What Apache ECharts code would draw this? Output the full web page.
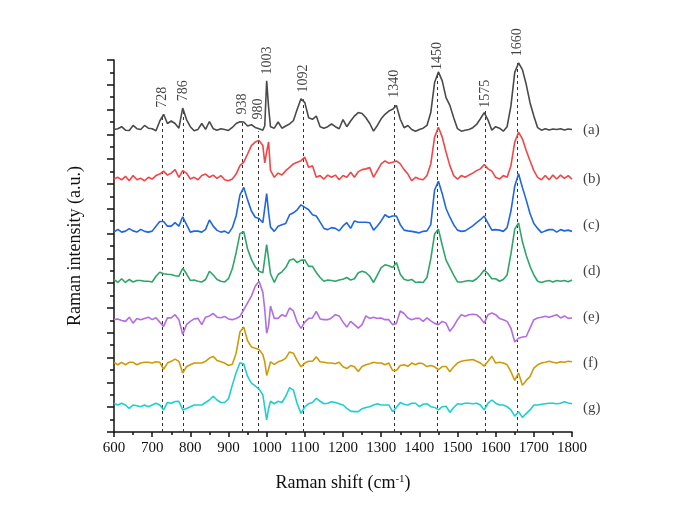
<!DOCTYPE html>
<html>
<head>
<meta charset="utf-8">
<title>Raman spectra</title>
<script src="https://cdn.jsdelivr.net/npm/echarts@6.0.0/dist/echarts.min.js"></script>
<style>
  html, body { margin: 0; padding: 0; background: #fff; }
  #chart { width: 689px; height: 516px; }
</style>
</head>
<body>
<div id="chart"></div>
<script>
// Raman shift grid (cm-1), finer around the 1003 band
const shifts = [
  600, 610, 620, 630, 640, 650, 660, 670, 680, 690,
  700, 710, 720, 730, 740, 750, 760, 770, 780, 790,
  800, 810, 820, 830, 840, 850, 860, 870, 880, 890,
  900, 910, 920, 930, 940, 950, 960, 970, 980, 990,
  995, 1000, 1005,
  1010, 1020, 1030, 1040, 1050, 1060, 1070, 1080, 1090,
  1100, 1110, 1120, 1130, 1140, 1150, 1160, 1170, 1180, 1190,
  1200, 1210, 1220, 1230, 1240, 1250, 1260, 1270, 1280, 1290,
  1300, 1310, 1320, 1330, 1340, 1350, 1360, 1370, 1380, 1390,
  1400, 1410, 1420, 1430, 1440, 1450, 1460, 1470, 1480, 1490,
  1500, 1510, 1520, 1530, 1540, 1550, 1560, 1570, 1580, 1590,
  1600, 1610, 1620, 1630, 1640, 1650, 1660, 1670, 1680, 1690,
  1700, 1710, 1720, 1730, 1740, 1750, 1760, 1770, 1780, 1790,
  1800
];

// intensities relative to each trace's baseline
const traceA = [
  0, 0.3, 1.1, -0.3, -0.4, 1.6, 0.3, 0, 1.6, 0.5,
  0.3, -0.5, 3.4, 6.1, 2.4, 3.4, 2.4, 0.5, 8.6, 4.0,
  1.1, -0.5, 0, 2.4, 0, 3.2, 0.3, -0.3, 0.3, 0,
  -0.4, 0.8, 2.4, 3.1, 3.0, 1.4, 1.9, 0.8, 0.3, -0.3,
  1.5, 19.6, 9.0,
  1.1, 0.5, 3.0, 0.5, 1.4, 2.2, 3.5, 8.1, 12.4,
  10.8, 4.7, 4.1, 5.4, 1.1, 0.5, 1.1, 2.2, 1.1, 0.3,
  4.0, 1.1, 3.4, 5.4, 6.8, 6.4, 4.7, 2.4, -0.7, 1.6,
  4.3, 6.1, 7.4, 8.1, 9.7, 4.1, 0.7, 1.6, 0, -0.7,
  0, 0.5, 1.6, 6.8, 18.9, 23.2, 19.6, 12.8, 9.7, 4.7,
  0.3, -0.7, -0.3, 0, 0.7, 2.0, 4.3, 6.8, 3.8, -0.3,
  1.1, 0.5, -0.7, 1.1, 9.5, 23.0, 26.8, 24.1, 18.2, 10.8,
  5.4, 0.7, -0.3, 0.3, -0.2, 0.2, 0, 0.3, -0.2, 0.2,
  0
];
const traceB = [
  0, 0.7, -0.3, 1.1, -0.7, 1.4, -0.3, 0.3, -0.7, 0.7,
  0, 1.4, 2.0, 3.2, 1.6, 2.4, 3.8, 0.7, 3.4, 2.4,
  0, 0.7, -0.3, 1.4, 2.0, 0.7, 1.6, 0.3, 1.4, -0.3,
  -0.7, 0, 2.0, 5.4, 6.8, 10.1, 13.5, 14.9, 15.5, 13.5,
  6.5, 11.0, 15.0,
  3.5, 0.7, 2.4, 1.6, 3.4, 4.7, 6.1, 6.8, 7.4,
  8.8, 4.7, 5.4, 0.7, 1.4, 0, 1.6, 0.7, 1.6, -0.3,
  1.4, 0.7, 2.7, 0.7, 3.0, 3.8, 4.1, 4.6, 0.7, 3.4,
  6.1, 7.3, 6.4, 6.8, 7.3, 6.1, 3.8, 2.0, -0.7, 0.7,
  0, -0.3, 1.4, 6.1, 16.9, 20.9, 16.9, 10.8, 5.4, 1.4,
  0, 1.4, 0.7, 1.6, 2.4, 3.4, 4.1, 5.9, 4.1, 3.2,
  0.7, 0, 1.4, 0.7, 5.4, 14.9, 18.9, 16.2, 11.5, 7.4,
  3.4, 0.7, -0.3, 1.4, -0.3, 1.6, 0, 1.6, 0.3, 1.4,
  0
];
const traceC = [
  0, 1.1, 0, 0.4, 1.4, 0.5, 0, 1.1, 0.3, 0,
  0.4, 2.4, 4.3, 4.3, 2.4, 2.4, 3.8, 2.4, 6.2, 3.0,
  0, 0.4, 0.4, 0, 1.1, 4.9, 2.4, 0.7, 0, 0.4,
  -0.5, 1.8, 6.5, 15.0, 18.0, 13.0, 8.5, 6.0, 5.5, 3.8,
  3.0, 15.5, 8.0,
  2.0, 0.3, 2.4, 3.0, 3.5, 7.0, 7.8, 9.0, 11.0,
  10.0, 9.0, 7.0, 6.5, 4.0, 1.5, 1.0, 1.8, 1.5, 0.5,
  2.5, 3.8, 1.5, 4.5, 4.0, 4.0, 4.0, 3.8, 0.8, 2.5,
  4.5, 7.0, 6.0, 6.5, 6.5, 3.0, 0.8, 0.5, 0.3, 0,
  -0.3, 0.3, 0.5, 3.0, 17.0, 20.5, 15.5, 9.5, 6.0, 3.0,
  0.8, 0.3, 0.5, 1.5, 2.5, 3.8, 5.0, 6.5, 3.5, 0.8,
  1.0, 0.8, 0.3, 1.8, 8.5, 18.5, 23.5, 18.0, 13.0, 7.5,
  3.5, 1.5, -0.2, 0.5, 1.0, 1.0, 0, 1.0, 0.5, 0.8,
  0.3
];
const traceD = [
  0.7, -0.5, 1.0, -0.5, 0.7, -0.3, 0.3, 0.3, 0, 0,
  -0.3, 2.0, 3.6, 3.0, 2.8, 2.7, 2.2, 2.0, 5.2, 3.0,
  0.3, 0.5, 0, -0.3, 0.7, 4.0, 2.5, 0.7, 0, -0.3,
  1.0, 5.0, 11.5, 19.2, 20.0, 13.0, 8.8, 5.8, 4.0, 3.4,
  3.3, 14.8, 9.0,
  3.0, -0.5, 2.7, 3.8, 5.5, 8.5, 9.0, 7.5, 8.5,
  8.5, 6.0, 6.0, 3.5, 1.5, 0, 0.5, 0.3, 0, 0.5,
  0.8, 1.5, 0.5, 1.0, 3.4, 4.0, 3.5, 2.0, -0.5, 2.5,
  5.5, 6.6, 6.2, 5.5, 7.5, 2.8, 0.8, 0.3, 0.7, -0.5,
  -0.3, -0.5, 1.5, 9.0, 19.0, 21.0, 14.5, 8.5, 5.5, 2.5,
  -0.3, -0.3, 0, 0.3, 0, 1.0, 2.5, 4.5, 3.0, 1.0,
  1.0, 0, 0.7, 2.5, 11.0, 21.0, 23.5, 16.0, 10.5, 6.0,
  2.5, 0, -0.5, 0, 0.3, -0.3, 0.3, 0, 0.3, -0.2,
  0.5
];
const traceE = [
  0, 0.3, -0.3, -0.7, 1.0, -1.4, 0.5, 0, 0.5, 1.0,
  0, 0.8, -1.0, -2.7, 0.7, 0.7, 2.0, 0, -6.0, -2.0,
  -0.7, 0.3, 0.5, -2.0, 1.0, 1.5, 2.5, 1.0, 0.8, 1.3,
  0.3, 0, 0.5, 1.3, 4.0, 6.8, 9.5, 13.5, 15.5, 11.0,
  4.0, -5.5, -2.5,
  5.5, 0.5, 0.5, 2.0, 1.3, 4.7, 3.5, -1.0, -3.5,
  -1.0, 0.5, 0.7, 3.3, 0.3, 0, 0, 0.7, 2.0, 1.5,
  -1.0, -3.0, -0.7, -2.0, -3.4, -2.0, 1.5, 0.5, 1.0, 0.5,
  0.7, 0, 0, -2.0, -1.5, 3.5, 2.5, 0.7, 0, 0.5,
  0.5, -0.7, 0.7, -0.5, -1.5, -2.0, -0.7, -1.4, -4.7, -2.7,
  0, 2.0, 1.4, 2.0, 2.2, 2.0, 0.7, -1.4, 2.0, 2.7,
  2.0, 0.5, 0, -0.7, -3.5, -9.0, -7.5, -7.0, -6.8, -3.4,
  0, 0.7, 1.0, 1.4, 1.0, 1.5, 2.0, 0.7, 1.5, 0.5,
  0.7
];
const traceF = [
  0.3, -0.7, 0.3, -0.7, 0.3, 0.3, -0.7, 0, 0.3, 0.3,
  0, 0.5, 0.3, -2.5, 0, 0.7, 1.6, 0.7, -4.0, -1.5,
  -0.7, 0, 0, 0, 0.7, 2.0, 2.7, 1.0, 0.5, 0,
  -1.0, -0.5, 4.0, 12.5, 14.5, 9.0, 6.5, 6.0, 5.5, 3.4,
  0.5, -5.0, -2.5,
  0.5, -0.5, 0.5, 1.0, 2.0, 4.5, 4.0, 1.0, -1.5,
  0, 0.7, 0.7, 2.5, 0.5, 0.3, 0, 0, -0.3, 0.3,
  -1.5, -2.2, -1.0, -1.5, -3.4, -1.4, -0.7, -0.3, 0.3, 0,
  0, -0.7, 0, -3.0, -3.0, -1.0, -0.7, -1.3, 0, -0.7,
  0, -0.3, -1.4, -1.0, -1.5, -2.7, -1.4, -1.4, -3.5, -1.5,
  0, 0.7, 1.0, 1.2, 1.4, 0.7, 0, -1.2, 0.7, 2.7,
  0, 0.3, 0, -0.7, -3.5, -7.0, -4.0, -9.0, -7.0, -5.5,
  -2.0, -0.7, 0, 0.3, 0.7, 0.3, 0, 0.5, 0.3, 0.7,
  0.5
];
const traceG = [
  0.7, 0, 0.7, 0, -1.4, 0, -0.3, -0.7, 0, -0.7,
  0, 0.7, 0, -2.0, 1.0, 0.7, 1.4, 1.5, -2.0, -1.4,
  -0.7, 0, 0, 0, 1.0, 2.0, 3.5, 2.0, 1.0, 1.0,
  2.5, 8.0, 13.0, 17.0, 16.5, 11.5, 8.8, 7.7, 6.4, 4.1,
  -1.0, -6.0, -1.5,
  1.5, 0.5, 1.5, 1.0, 3.5, 7.0, 6.0, 0.5, -3.4,
  -0.8, 0.5, 1.0, 2.7, 1.5, 0.5, 0.7, 1.3, 1.0, 0.5,
  0, -1.4, -2.5, -2.7, -2.7, -1.5, -1.0, -0.7, 0, 0.5,
  0, 0, 0, -2.7, -1.0, 1.0, 0.3, 0, 0.7, 0.7,
  -0.7, 0.3, 0.5, -0.7, -1.0, -2.0, -0.7, -0.5, -3.0, -1.0,
  0.5, 0.3, 0.7, 0.7, 0.5, 0.7, 0, -2.0, 0.7, 2.0,
  0.7, 0, 0, -0.7, -2.0, -4.5, -2.7, -5.0, -3.5, -2.0,
  0, 0, 0.3, 0.5, 0.7, 0.7, 0.5, 0.7, 1.3, 0.8,
  0.5
];

const offsets = [122, 102, 80.6, 60.8, 45.3, 27.8, 10.9];
const sampleNames = ['(a)', '(b)', '(c)', '(d)', '(e)', '(f)', '(g)'];
const sampleLabelY = [121.7, 101.9, 83.3, 64.7, 46.5, 27.9, 9.7];

// dashed guide lines at the assigned bands
const peakLineX = [727, 782, 936, 978, 1096, 1334, 1448, 1574, 1656];
const peakLineTop = [128.2, 130.2, 125, 121.3, 134.2, 132.2, 144.4, 129.4, 149.2];

const peakLabels = ['728', '786', '938', '980', '1003', '1092', '1340', '1450', '1575', '1660'];
const peakLabelX = [727, 782, 936, 978, 1002, 1096, 1334, 1448, 1574, 1656];
const peakLabelY = [130.7, 133.4, 128, 126, 144.2, 136.9, 134.8, 146, 130.7, 151.5];

const colors = ['#4a4a4a', '#f04646', '#1f66e0', '#2ea56a', '#b36de0', '#cf9a0a', '#1fcfd0'];
const traces = [traceA, traceB, traceC, traceD, traceE, traceF, traceG];
const font = '"Liberation Serif", "Times New Roman", serif';
const ink = '#111';

const chart = echarts.init(document.getElementById('chart'), null, { renderer: 'canvas' });

const spectra = traces.map((t, i) => ({
  type: 'line',
  data: t.map((v, j) => [shifts[j], v + offsets[i]]),
  symbol: 'none',
  lineStyle: { color: colors[i], width: 1.6 },
  silent: true,
  z: 3,
}));

chart.setOption({
  animation: false,
  grid: { left: 114, right: 117, top: 60, bottom: 84 },
  xAxis: {
    type: 'value',
    min: 600,
    max: 1800,
    interval: 100,
    name: 'Raman shift (cm{sup|-1})',
    nameLocation: 'middle',
    nameGap: 42,
    nameTextStyle: {
      fontFamily: font, fontSize: 18, color: ink,
      rich: { sup: { fontFamily: font, fontSize: 11, color: ink, verticalAlign: 'top' } },
    },
    axisLine: { lineStyle: { color: ink, width: 1.5 } },
    axisTick: { length: 5, lineStyle: { color: ink, width: 1.5 } },
    minorTick: { show: true, splitNumber: 2, length: 3, lineStyle: { color: ink, width: 1.5 } },
    axisLabel: { fontFamily: font, fontSize: 15, color: ink, margin: 9, formatter: (v) => String(v) },
    splitLine: { show: false },
  },
  yAxis: {
    type: 'value',
    min: 0,
    max: 150,
    interval: 10,
    name: 'Raman intensity (a.u.)',
    nameLocation: 'middle',
    nameGap: 30,
    nameTextStyle: { fontFamily: font, fontSize: 18, color: ink },
    axisLine: { show: true, lineStyle: { color: ink, width: 1.5 } },
    axisTick: { show: true, length: 7, lineStyle: { color: ink, width: 1.5 } },
    minorTick: { show: true, splitNumber: 2, length: 4, lineStyle: { color: ink, width: 1.5 } },
    axisLabel: { show: false },
    splitLine: { show: false },
  },
  series: [
    {
      type: 'lines',
      coordinateSystem: 'cartesian2d',
      data: peakLineX.map((x, i) => ({ coords: [[x, 0], [x, peakLineTop[i]]] })),
      lineStyle: { color: '#333', width: 1, type: [3, 3], opacity: 1 },
      silent: true,
      z: 1,
    },
    ...spectra,
    {
      type: 'scatter',
      data: peakLabels.map((t, i) => ({ name: t, value: [peakLabelX[i], peakLabelY[i]] })),
      symbolSize: 0,
      clip: false,
      silent: true,
      label: {
        show: true, formatter: '{b}', position: 'inside', rotate: 90,
        align: 'left', verticalAlign: 'middle',
        fontFamily: font, fontSize: 14, color: ink,
      },
      z: 4,
    },
    {
      type: 'scatter',
      data: sampleNames.map((n, i) => ({ name: n, value: [1800, sampleLabelY[i]] })),
      symbolSize: 0,
      clip: false,
      silent: true,
      label: {
        show: true, formatter: '{b}', position: 'right', distance: 11,
        fontFamily: font, fontSize: 15, color: ink,
      },
      z: 4,
    },
  ],
});
</script>
</body>
</html>
